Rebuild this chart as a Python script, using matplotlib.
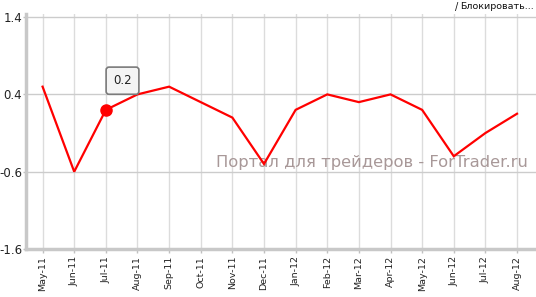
#!/usr/bin/env python3
"""Monthly indicator line chart (ForTrader style)."""

import matplotlib

matplotlib.use("Agg")
import matplotlib.pyplot as plt  # noqa: E402

MONTHS = [
    "May-11", "Jun-11", "Jul-11", "Aug-11", "Sep-11", "Oct-11", "Nov-11", "Dec-11",
    "Jan-12", "Feb-12", "Mar-12", "Apr-12", "May-12", "Jun-12", "Jul-12", "Aug-12",
]
VALUES = [0.5, -0.6, 0.2, 0.4, 0.5, 0.3, 0.1, -0.5,
          0.2, 0.4, 0.3, 0.4, 0.2, -0.4, -0.1, 0.15]
Y_TICKS = [-1.6, -0.6, 0.4, 1.4]
HIGHLIGHT = 2  # Jul-11, shown with tooltip
WATERMARK = "Портал для трейдеров - ForTrader.ru"


def main() -> None:
    plt.rcParams["font.family"] = ["DejaVu Sans"]
    plt.rcParams["axes.unicode_minus"] = False
    fig = plt.figure(figsize=(5.36, 2.97), dpi=100)
    ax = fig.add_axes([25.5 / 536, 1 - 249 / 297, 1 - 25.5 / 536, (249 - 14) / 297])

    xs = list(range(len(MONTHS)))
    ax.plot(xs, VALUES, color="#ff0000", linewidth=1.6, zorder=3,
            solid_joinstyle="miter")
    ax.plot([xs[HIGHLIGHT]], [VALUES[HIGHLIGHT]], "o", color="#ff0000",
            markersize=8, zorder=4)
    ax.annotate(
        f"{VALUES[HIGHLIGHT]:.1f}",
        (xs[HIGHLIGHT], VALUES[HIGHLIGHT]),
        xytext=(12, 21), textcoords="offset points",
        ha="center", va="center", fontsize=8.5, color="#222222", zorder=5,
        bbox=dict(boxstyle="round,pad=0.6,rounding_size=0.25", fc="#f4f4f4",
                  ec="#7a7a7a", lw=1.2),
    )

    ax.set_xlim(-0.54, 15.6)
    ax.set_ylim(-1.6, 1.44)
    ax.set_xticks(xs)
    ax.set_xticklabels(MONTHS, rotation=90, fontsize=6.8, color="#222222")
    ax.set_yticks(Y_TICKS)
    ax.set_yticklabels([f"{v:.1f}" for v in Y_TICKS], fontsize=8.5, color="#222222")

    ax.grid(True, axis="x", color="#dcdcdc", linewidth=1.0)
    ax.grid(True, axis="y", color="#cccccc", linewidth=1.0)
    for side in ("top", "right"):
        ax.spines[side].set_visible(False)
    for side in ("left", "bottom"):
        ax.spines[side].set_color("#c8c8c8")
        ax.spines[side].set_linewidth(2.5)
    ax.tick_params(axis="x", length=3, width=1, color="#c0c0c0", pad=2)
    ax.tick_params(axis="y", length=2, width=1, color="#c0c0c0", pad=0.5)

    ax.text(0.985, 0.37, WATERMARK, transform=ax.transAxes, ha="right",
            va="center", fontsize=11.8, color="#a89898", zorder=2)
    fig.text(0.848, 0.992, "/", ha="left", va="top", fontsize=7, color="#111111")
    fig.text(0.858, 0.992, "Блокировать...", ha="left", va="top",
             fontsize=6.8, color="#111111")

    fig.savefig("out.png", dpi=100)
    plt.close(fig)


if __name__ == "__main__":
    main()
